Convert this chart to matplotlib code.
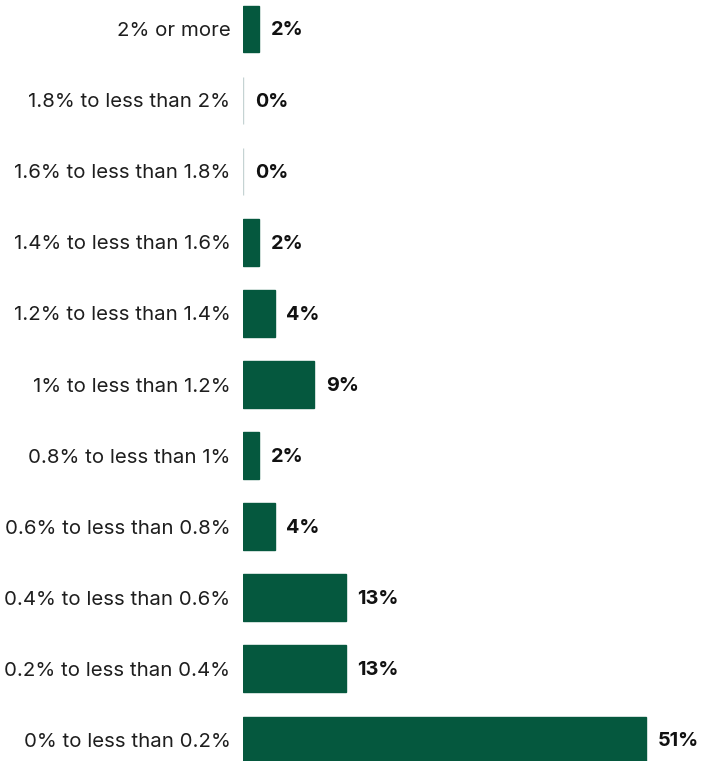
import matplotlib
matplotlib.use("Agg")
import matplotlib.pyplot as plt

categories = ["2% or more", "1.8% to less than 2%", "1.6% to less than 1.8%",
              "1.4% to less than 1.6%", "1.2% to less than 1.4%", "1% to less than 1.2%",
              "0.8% to less than 1%", "0.6% to less than 0.8%", "0.4% to less than 0.6%",
              "0.2% to less than 0.4%", "0% to less than 0.2%"]
values = [2, 0, 0, 2, 4, 9, 2, 4, 13, 13, 51]

plt.rcParams['font.family'] = ['Inter', 'DejaVu Sans']
green = '#05583e'

fig = plt.figure(figsize=(7.02, 7.61), dpi=100)
ax = fig.add_axes([243 / 702, 0, 459 / 702, 1])

ypos = list(range(len(categories)))
edges = ['#c5d3d3' if v == 0 else green for v in values]
ax.barh(ypos, values, height=0.66, color=green, edgecolor=edges, linewidth=1)

for y, v in zip(ypos, values):
    ax.text(v + 1.5, y + 0.02, f"{v}%", va='center', ha='left', fontsize=14.3,
            fontweight='bold', color='#111111')

ax.set_yticks(ypos)
ax.set_yticklabels(categories, fontsize=14.7, color='#1e1e1e')
ax.tick_params(axis='y', length=0, pad=9)
ax.set_xticks([])
ax.set_xlim(0, 58.1)
ax.set_ylim(10.295, -0.408)
for s in ax.spines.values():
    s.set_visible(False)

fig.savefig("out.png", dpi=100)
